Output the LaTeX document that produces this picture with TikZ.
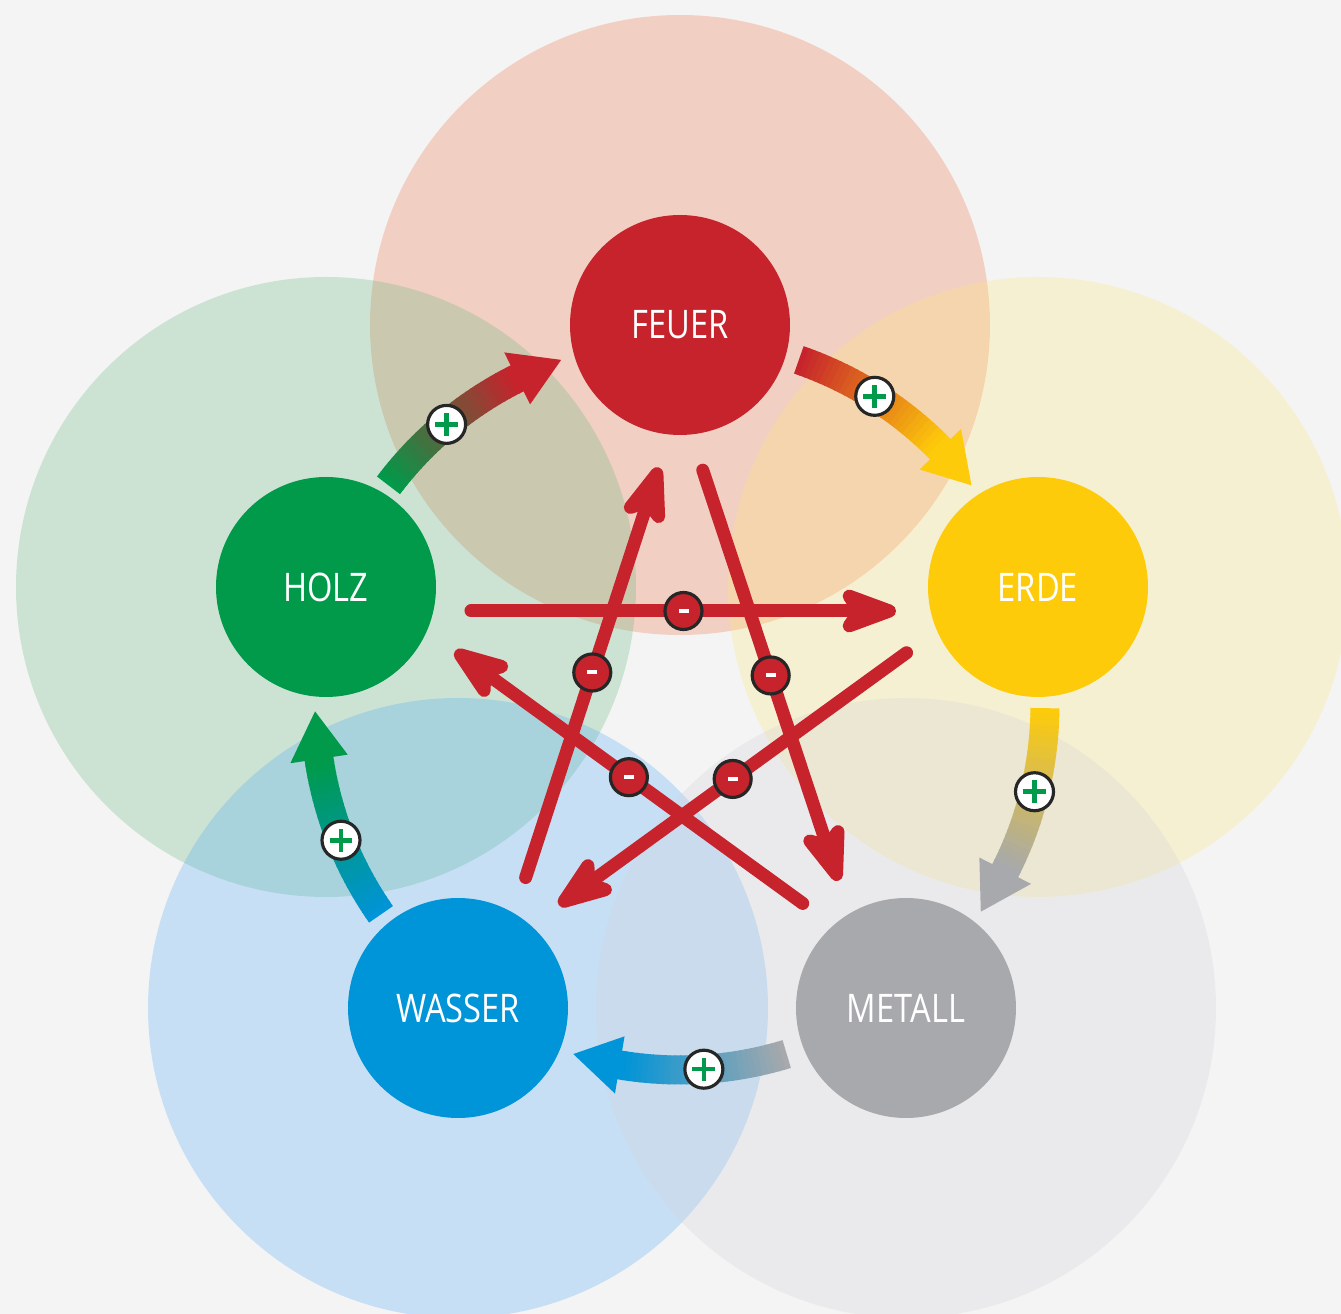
\documentclass[tikz,border=0pt]{standalone}
\usepackage{fontspec}
\setmainfont{Open Sans}[FakeStretch=0.83]
\usetikzlibrary{calc,arrows.meta}

\definecolor{feuerrot}{RGB}{198,35,44}
\definecolor{holzgruen}{RGB}{0,154,74}
\definecolor{erdgelb}{RGB}{254,203,10}
\definecolor{wasserblau}{RGB}{0,148,216}
\definecolor{metallgrau}{RGB}{167,169,172}
\definecolor{hintergrund}{RGB}{244,244,244}
% Farben der grossen Kreise
\definecolor{feuerhauch}{RGB}{240,100,52}
\definecolor{holzhauch}{RGB}{88,180,120}
\definecolor{erdhauch}{RGB}{255,232,112}
\definecolor{wasserhauch}{RGB}{68,164,244}
\definecolor{metallhauch}{RGB}{208,208,216}

\begin{document}
\begin{tikzpicture}[
    aura/.style={circle, minimum size=6.2cm, inner sep=0pt, fill opacity=0.25},
    element/.style={circle, minimum size=2.2cm, inner sep=0pt, text=white,
        font=\fontsize{11.2}{13}\selectfont},
    hemmung/.style={draw=feuerrot, line width=3.7pt, line cap=round,
        -{Stealth[length=7.5mm, width=5.4mm, inset=1.8mm, round]}},
    foerderung/.style={line width=2.9mm},
    minusbadge/.style={circle, draw=black!85, line width=0.9pt, fill=feuerrot,
        minimum size=0.37cm, inner sep=0pt,
        path picture={\fill[white] ($(path picture bounding box.center)+(-0.05,-0.02)$) rectangle +(0.1,0.04);}},
    plusbadge/.style={circle, draw=black!85, line width=0.9pt, fill=white,
        minimum size=0.38cm, inner sep=0pt,
        path picture={\draw[holzgruen, line width=1.3pt]
            ($(path picture bounding box.center)+(-0.115,0)$) -- +(0.23,0)
            ($(path picture bounding box.center)+(0,-0.115)$) -- +(0,0.23);}}
]
    \useasboundingbox (0,0) rectangle (13.41,-13.14);
    \fill[hintergrund] (0,0) rectangle (13.41,-13.14);

    % grosse Kreise
    \node[aura, fill=feuerhauch] (feuerAura) at (6.80,-3.25) {};
    \node[aura, fill=holzhauch] (holzAura) at (3.26,-5.87) {};
    \node[aura, fill=erdhauch] (erdeAura) at (10.38,-5.87) {};
    \node[aura, fill=wasserhauch] (wasserAura) at (4.58,-10.08) {};
    \node[aura, fill=metallhauch] (metallAura) at (9.06,-10.08) {};

    % Elemente
    \node[element, fill=feuerrot] (feuer) at (feuerAura) {FEUER};
    \node[element, fill=holzgruen] (holz) at (holzAura) {HOLZ};
    \node[element, fill=erdgelb] (erde) at (erdeAura) {ERDE};
    \node[element, fill=wasserblau] (wasser) at (wasserAura) {WASSER};
    \node[element, fill=metallgrau] (metall) at (metallAura) {METALL};
    \coordinate (mitte) at (6.80,-7.05);

    % Kontrollzyklus
    \foreach \von/\nach in {holz/erde, erde/wasser, wasser/feuer, feuer/metall, metall/holz}
        \draw[hemmung] ($(\von)!1.45cm!(\nach)!0.24cm!-90:(\nach)$)
            -- node[minusbadge] (minus\von) {} ($(\nach)!1.42cm!(\von)!0.24cm!90:(\von)$);

    % Erzeugungszyklus
    \foreach \a/\von/\nach [count=\k] in {143/holzgruen/feuerrot, 71/feuerrot/erdgelb,
            -0.5/erdgelb/metallgrau, -73/metallgrau/wasserblau, 215/wasserblau/holzgruen}{
        \foreach \i in {0,...,29}{
            \pgfmathsetmacro\wa{\a-26.5*\i/30}
            \pgfmathsetmacro\wb{\a-26.5*(\i+1.2)/30}
            \pgfmathtruncatemacro\p{100-100*\i/29}
            \draw[foerderung, \von!\p!\nach] (mitte) ++(\wa:3.65)
                arc[start angle=\wa, end angle=\wb, radius=3.65];
        }
        \pgfmathsetmacro\hb{\a-26.5}
        \pgfmathsetmacro\spitze{\a-34}
        \pgfmathsetmacro\pw{\a-13.25}
        \fill[\nach] ($(mitte)+(\spitze:3.65)$) -- ($(mitte)+(\hb:3.94)$)
            -- ($(mitte)+(\hb:3.36)$) -- cycle;
        \node[plusbadge] (plus\k) at ($(mitte)+(\pw:3.65)$) {};
    }
\end{tikzpicture}
\end{document}
